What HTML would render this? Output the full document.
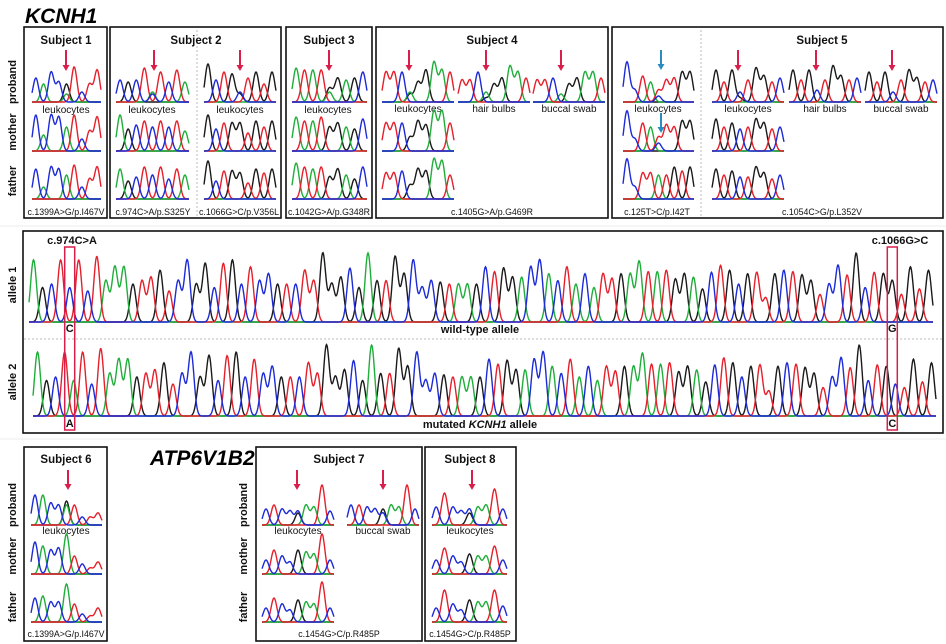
<!DOCTYPE html>
<html><head><meta charset="utf-8"><style>
html,body{margin:0;padding:0;background:#fff;}
svg{display:block;font-family:"Liberation Sans",sans-serif;}
.t{font-size:11.5px;font-weight:bold;fill:#111;text-anchor:middle;}
.s{font-size:10px;fill:#111;text-anchor:middle;}
.m{font-size:8.8px;fill:#111;text-anchor:middle;}
.r{font-size:11px;font-weight:bold;fill:#111;text-anchor:middle;}
.box{fill:none;stroke:#111;stroke-width:1.6;}
.dot{stroke:#bbb;stroke-width:1;stroke-dasharray:2,2;}
</style></head><body>
<svg id="fig" width="946" height="644" viewBox="0 0 946 644">
<text x="25" y="23" style="font-size:21px;font-weight:bold;font-style:italic">KCNH1</text>
<text x="150" y="465" style="font-size:21px;font-weight:bold;font-style:italic">ATP6V1B2</text>
<line x1="0" y1="226" x2="946" y2="226" stroke="#eee"/>
<line x1="0" y1="439" x2="946" y2="439" stroke="#eee"/>

<rect class="box" x="24" y="27" width="83" height="191"/>
<rect class="box" x="110" y="27" width="171" height="191"/>
<rect class="box" x="286" y="27" width="86" height="191"/>
<rect class="box" x="376" y="27" width="232" height="191"/>
<rect class="box" x="612" y="27" width="331" height="191"/>
<line class="dot" x1="197" y1="30" x2="197" y2="216"/>
<line class="dot" x1="701" y1="30" x2="701" y2="216"/>
<rect class="box" x="23" y="231" width="920" height="202"/>
<line class="dot" x1="24" y1="339" x2="942" y2="339"/>
<rect class="box" x="24" y="447" width="83" height="194"/>
<rect class="box" x="256" y="447" width="166" height="194"/>
<rect class="box" x="425" y="447" width="91" height="194"/>

<text class="t" x="66" y="44">Subject 1</text>
<text class="t" x="196" y="44">Subject 2</text>
<text class="t" x="329" y="44">Subject 3</text>
<text class="t" x="492" y="44">Subject 4</text>
<text class="t" x="822" y="44">Subject 5</text>
<text class="t" x="66" y="463">Subject 6</text>
<text class="t" x="339" y="463">Subject 7</text>
<text class="t" x="470" y="463">Subject 8</text>

<g>
<text class="r" transform="translate(16,82) rotate(-90)">proband</text>
<text class="r" transform="translate(16,132) rotate(-90)">mother</text>
<text class="r" transform="translate(16,181) rotate(-90)">father</text>
<text class="r" transform="translate(16,285) rotate(-90)">allele 1</text>
<text class="r" transform="translate(16,382) rotate(-90)">allele 2</text>
<text class="r" transform="translate(16,505) rotate(-90)">proband</text>
<text class="r" transform="translate(16,556) rotate(-90)">mother</text>
<text class="r" transform="translate(16,607) rotate(-90)">father</text>
<text class="r" transform="translate(247,505) rotate(-90)">proband</text>
<text class="r" transform="translate(247,556) rotate(-90)">mother</text>
<text class="r" transform="translate(247,607) rotate(-90)">father</text>
</g>

<g>
<text class="s" x="66" y="113">leukocytes</text>
<text class="s" x="152" y="113">leukocytes</text>
<text class="s" x="240" y="113">leukocytes</text>
<text class="s" x="328" y="113">leukocytes</text>
<text class="s" x="418" y="112">leukocytes</text>
<text class="s" x="494" y="112">hair bulbs</text>
<text class="s" x="569" y="112">buccal swab</text>
<text class="s" x="658" y="112">leukocytes</text>
<text class="s" x="748" y="112">leukocytes</text>
<text class="s" x="825" y="112">hair bulbs</text>
<text class="s" x="901" y="112">buccal swab</text>
<text class="s" x="66" y="534">leukocytes</text>
<text class="s" x="298" y="534">leukocytes</text>
<text class="s" x="383" y="534">buccal swab</text>
<text class="s" x="470" y="534">leukocytes</text>
</g>
<g>
<text class="m" x="66" y="215">c.1399A&gt;G/p.I467V</text>
<text class="m" x="153" y="215">c.974C&gt;A/p.S325Y</text>
<text class="m" x="239" y="215">c.1066G&gt;C/p.V356L</text>
<text class="m" x="329" y="215">c.1042G&gt;A/p.G348R</text>
<text class="m" x="492" y="215">c.1405G&gt;A/p.G469R</text>
<text class="m" x="657" y="215">c.125T&gt;C/p.I42T</text>
<text class="m" x="822" y="215">c.1054C&gt;G/p.L352V</text>
<text class="m" x="66" y="637">c.1399A&gt;G/p.I467V</text>
<text class="m" x="339" y="637">c.1454G&gt;C/p.R485P</text>
<text class="m" x="470" y="637">c.1454G&gt;C/p.R485P</text>
</g>
<g>
<text class="r" x="72" y="244">c.974C&gt;A</text>
<text class="r" x="900" y="244">c.1066G&gt;C</text>
<text class="r" x="480" y="333">wild-type allele</text>
<text class="r" x="480" y="428">mutated <tspan font-style="italic">KCNH1</tspan> allele</text>
</g>
<g id="traces"></g>
</svg>
<script>
// ---- data: peak tokens, base + height (0-10), "+" joins overlapping peaks
const s1P = "C6 A4.5 C7.5 C5 G4.5+A2 T8.8 C2.5 T4.5 T8";
const s1M = "C9 A4 C9 C8.5 A6 T9 C3 T5 T8.5";
const s1F = "C7.5 A3 C8 C7.5 A6 T8.5 C3 T5 T8";
const s2aP = "C5.5 G5 C5.5 T8.5 A2.5+C2 T7.5 C5 T8 A5";
const s2aM = "A9 G5.5 C6.5 T7.5 C6 T7.5 C6 T7.5 A5";
const s2aF = "A7.5 G4.5 C5.5 T8 C6 T8 C5 T7.5 A6";
const s2bP = "G9.5 C5.5 T7.5 G7 C2.5+G2 T6 G7.5 T4.5 G7.5";
const s2bM = "G9 C5.5 T7 G7 G7 T4.5 G7.5 T6 G7.5";
const s2bF = "G9.5 C4.5 T7 G7 G6.5 T4 G7.5 T6.5 G7.5";
const s3P = "A8.5 T8 A8 T8 G3.5+A2.5 G6 A5.5 G6 C7.5";
const s3M = "A8.5 T7.5 A7.5 T8.5 G6 G7 A6 G5.5 C8";
const s3F = "A9 T8 A7.5 T8 G5.5 G7.5 A6 G5 C8";
const s4L = "T7.5 T7.5 C7.5 A2.5+G2 G5 G8 A10 A8 T7.5";
const s4H = "T5.5 T5.5 C7.5 A2.5+G1 G4.5 G6 A9 A7.5 T6";
const s4B = "T5.5 T5.5 C6 A2 G4.5 G6 A7.5 A7.5 T6";
const s4M = "T7 T7 C7 G3.5 G7.5 G6.5 A10 A10 T7";
const s4F = "T6.5 T6.5 C7 G3.5 G7.5 G7 A10 A9.5 T6";
const s5aP = "C10 C3 T6.5 A5 T3+C1.5 T5.5 T6 G7.5 G7.5";
const s5aM = "C10 C3 T7 A6 T3.5+C2 T6.5 T6 G7.5 G7.5";
const s5aF = "C10 C3 T6.5 T6.5 A6 T6 G8 T7 G8";
const s5bL = "G8 T5 G8 C2.5+G1 T5.5 G8.5 G6.5 T5 C6";
const s5bH = "G8 T5.5 G8 C3 T5.5 G9 G6.5 T5.5 C6";
const s5bB = "G7.5 T5 G7.5 C2.5 T5.5 G8 G6 T5 C5.5";
const s5bM = "G8 T6 G7 C5.5 T6 G8 G7 T5.5 C6";
const s5bF = "G7.5 T6 G7 C5.5 T5.5 G8 G6.5 T5 C6";
const s6P = "C7.5 A7.5 C5.5 C5 G6+A5 T5 C2 T2 T3";
const s6M = "C8 A7 C6 C6.5 A10 T4.5 C2.5 T1.5 T3";
const s6F = "C6 A6.5 C5 C5 A9.5 T4.5 C2 T1.5 T3.5";
const s7aP = "C4 T5 C4 C3.5 C3.5+G3 A5 A4.5 T10 C3.5";
const s7aM = "C3.5 T6 C4.5 C3 G6 A5.5 A5 T10 C3.5";
const s7aF = "C3.5 T6 C4.5 C3 G5.5 A5 A4.5 T10 C3.5";
const s7bB = "C5 T5 C4.5 C4 G4+C3 A5 A4.5 T10 C4";
const s8P = "C4.5 T8 C4.5 C3.5 C4+G3 A4.5 A5 T9 C4";
const s8M = "C3.5 T6.5 C4.5 C3 G5 A4.5 A4.5 T7 C3.5";
const s8F = "C3.5 T8 C4.5 C3 G5.5 A5 A5 T8 C4";
const allele1 = "A9 G5 C5.5 T9 C5 T9 C4.5 T9.5 A6 A8 A8 G5.5 T6 T6.5 G7.5 T4.5 C6 C9 G5.5 G8.5 C5 T8.5 G9 C5.5 T8 C6 C7 G5.5 T5.5 C5.5 T7.5 T6 G10 G5.5 G6.5 C7.8 G5 A10 G6 T6 G9.5 G7 C9 C5 C6 G5.8 T5.5 A5.5 A5.5 G5.5 C8 T7.3 G7.8 G6.5 A6.5 C8 C9 A7 C6 T8 A5.5 C7 A5 T7 T6.3 G7 A7 A8.8 T7.3 A7.3 T7.5 G6.2 G7 A6.5 G4.8 C7.2 T8.2 G7.5 C5.5 G7 T7.2 T3.5 G7 C7.5 T7.3 G6.8 G6 T4 C5.5 C8.2 T6.8 G10 C5 T7.2 G7 G6 T4 G8 T4.8 G7.5";
const allele2 = "A9 G5 C5.5 T9 A5 T9 C4.5 T9.5 A6 A8 A8 G5.5 T6 T6.5 G7.5 T4.5 C6 C9 G5.5 G8.5 C5 T8.5 G9 C5.5 T8 C6 C7 G5.5 T5.5 C5.5 T7.5 T6 G10 G5.5 G6.5 C7.8 G5 A10 G6 T6 G9.5 G7 C9 C5 C6 G5.8 T5.5 A5.5 A5.5 G5.5 C8 T7.3 G7.8 G6.5 A6.5 C8 C9 A7 C6 T8 A5.5 C7 A5 T7 T6.3 G7 A7 A8.8 T7.3 A7.3 T7.5 G6.2 G7 A6.5 G4.8 C7.2 T8.2 G7.5 C5.5 G7 T7.2 T3.5 G7 C7.5 T7.3 G6.8 G6 T4 C5.5 C8.2 T6.8 G10 C5 T7.2 G7 C4.5 T4 G8 T4.8 G7.5";
const mutIndex = [4, 95];
const wtBases = ["C", "G"];
const mutBases = ["A", "C"];

const COL = {A:"#1fae3a", C:"#1c2bd6", G:"#1a1a1a", T:"#e5202b"};
const NS = "http://www.w3.org/2000/svg";
const root = document.getElementById("traces");

function parse(str){
  return str.trim().split(/\s+/).map(tok => tok.split("+").map(p => ({b:p[0], h:parseFloat(p.slice(1))})));
}
function peakX(x0, x1, n, i){ const st=(x1-x0)/n; return x0 + (i+0.5)*st; }

function trace(name, str, x0, x1, base, maxH, sf){
  const peaks = parse(str), n = peaks.length, st = (x1-x0)/n, sg = st*(sf||0.33);
  const g = document.createElementNS(NS, "g");
  
  
  ["G","A","T","C"].forEach(ch => {
    let d = "";
    for (let x = x0; x <= x1 + 0.01; x += 0.5){
      let y = 0;
      peaks.forEach((pk, i) => pk.forEach(p => {
        if (p.b === ch){ const dx = x - peakX(x0,x1,n,i); y += p.h/10*maxH*Math.exp(-dx*dx/(2*sg*sg)); }
      }));
      d += (d ? "L" : "M") + x.toFixed(1) + "," + (base - y).toFixed(1);
    }
    const p = document.createElementNS(NS, "path");
    p.setAttribute("d", d);
    p.setAttribute("fill", "none");
    p.setAttribute("stroke", COL[ch]);
    p.setAttribute("stroke-width", "1.4");
    
    
    g.appendChild(p);
  });
  root.appendChild(g);
}
function arrow(x, y1, y2, color){
  const g = document.createElementNS(NS, "g");
  
  
  g.innerHTML = `<line x1="${x}" y1="${y1}" x2="${x}" y2="${y2-5}" stroke="${color}" stroke-width="2"/><polygon points="${x-3.5},${y2-6} ${x+3.5},${y2-6} ${x},${y2}" fill="${color}"/>`;
  root.appendChild(g);
}

const R1=102, R2=151, R3=199, H=40, SF=0.36;
trace("s1-proband", s1P, 32, 101, R1, H, SF); trace("s1-mother", s1M, 32, 101, R2, H, SF); trace("s1-father", s1F, 32, 101, R3, H, SF);
trace("s2a-proband", s2aP, 116, 189, R1, H, SF); trace("s2a-mother", s2aM, 116, 189, R2, H, SF); trace("s2a-father", s2aF, 116, 189, R3, H, SF);
trace("s2b-proband", s2bP, 204, 276, R1, H, SF); trace("s2b-mother", s2bM, 204, 276, R2, H, SF); trace("s2b-father", s2bF, 204, 276, R3, H, SF);
trace("s3-proband", s3P, 292, 367, R1, H, SF); trace("s3-mother", s3M, 292, 367, R2, H, SF); trace("s3-father", s3F, 292, 367, R3, H, SF);
trace("s4-leukocytes", s4L, 382, 454, R1, H, SF); trace("s4-hair", s4H, 458, 530, R1, H, SF); trace("s4-buccal", s4B, 533, 605, R1, H, SF);
trace("s4-mother", s4M, 382, 454, R2, H, SF); trace("s4-father", s4F, 382, 454, R3, H, SF);
trace("s5a-proband", s5aP, 623, 694, R1, H, SF); trace("s5a-mother", s5aM, 623, 694, R2, H, SF); trace("s5a-father", s5aF, 623, 694, R3, H, SF);
trace("s5b-leukocytes", s5bL, 712, 784, R1, H, SF); trace("s5b-hair", s5bH, 789, 861, R1, H, SF); trace("s5b-buccal", s5bB, 865, 937, R1, H, SF);
trace("s5b-mother", s5bM, 712, 784, R2, H, SF); trace("s5b-father", s5bF, 712, 784, R3, H, SF);
const B1=525, B2=574, B3=622;
trace("s6-proband", s6P, 31, 102, B1, H, SF); trace("s6-mother", s6M, 31, 102, B2, H, SF); trace("s6-father", s6F, 31, 102, B3, H, SF);
trace("s7a-proband", s7aP, 262, 334, B1, H, SF); trace("s7a-mother", s7aM, 262, 334, B2, H, SF); trace("s7a-father", s7aF, 262, 334, B3, H, SF);
trace("s7b-buccal", s7bB, 347, 419, B1, H, SF);
trace("s8-proband", s8P, 432, 507, B1, H, SF); trace("s8-mother", s8M, 432, 507, B2, H, SF); trace("s8-father", s8F, 432, 507, B3, H, SF);

const A1x0=29, A1x1=933, A2x0=33, A2x1=936;
trace("allele1-trace", allele1, A1x0, A1x1, 322, 69, 0.33);
trace("allele2-trace", allele2, A2x0, A2x1, 416, 71, 0.33);

const RED="#d81e4a", BLUE="#2b8cc0";
[66,154,240,329,409,486,561,738,816,892].forEach(x => arrow(x, 50, 71, RED));
arrow(661, 50, 70, BLUE); arrow(661, 113, 133, BLUE);
[68,297,383,472].forEach(x => arrow(x, 470, 490, RED));

const n1 = parse(allele1).length;
mutIndex.forEach((mi, k) => {
  const x = peakX(A1x0, A1x1, n1, mi);
  const r = document.createElementNS(NS, "rect");
  r.setAttribute("x", (x-5).toFixed(1)); r.setAttribute("y", 247);
  r.setAttribute("width", 10); r.setAttribute("height", 183);
  r.setAttribute("fill", "none"); r.setAttribute("stroke", "#d81e4a"); r.setAttribute("stroke-width", "1.5");
  
  
  root.appendChild(r);
  const t1 = document.createElementNS(NS, "text");
  t1.setAttribute("x", x.toFixed(1)); t1.setAttribute("y", 332); t1.setAttribute("class", "r");
  t1.textContent = wtBases[k];
  
  
  root.appendChild(t1);
  const t2 = document.createElementNS(NS, "text");
  t2.setAttribute("x", x.toFixed(1)); t2.setAttribute("y", 427); t2.setAttribute("class", "r");
  t2.textContent = mutBases[k];
  
  
  root.appendChild(t2);
});
</script>
</body></html>
